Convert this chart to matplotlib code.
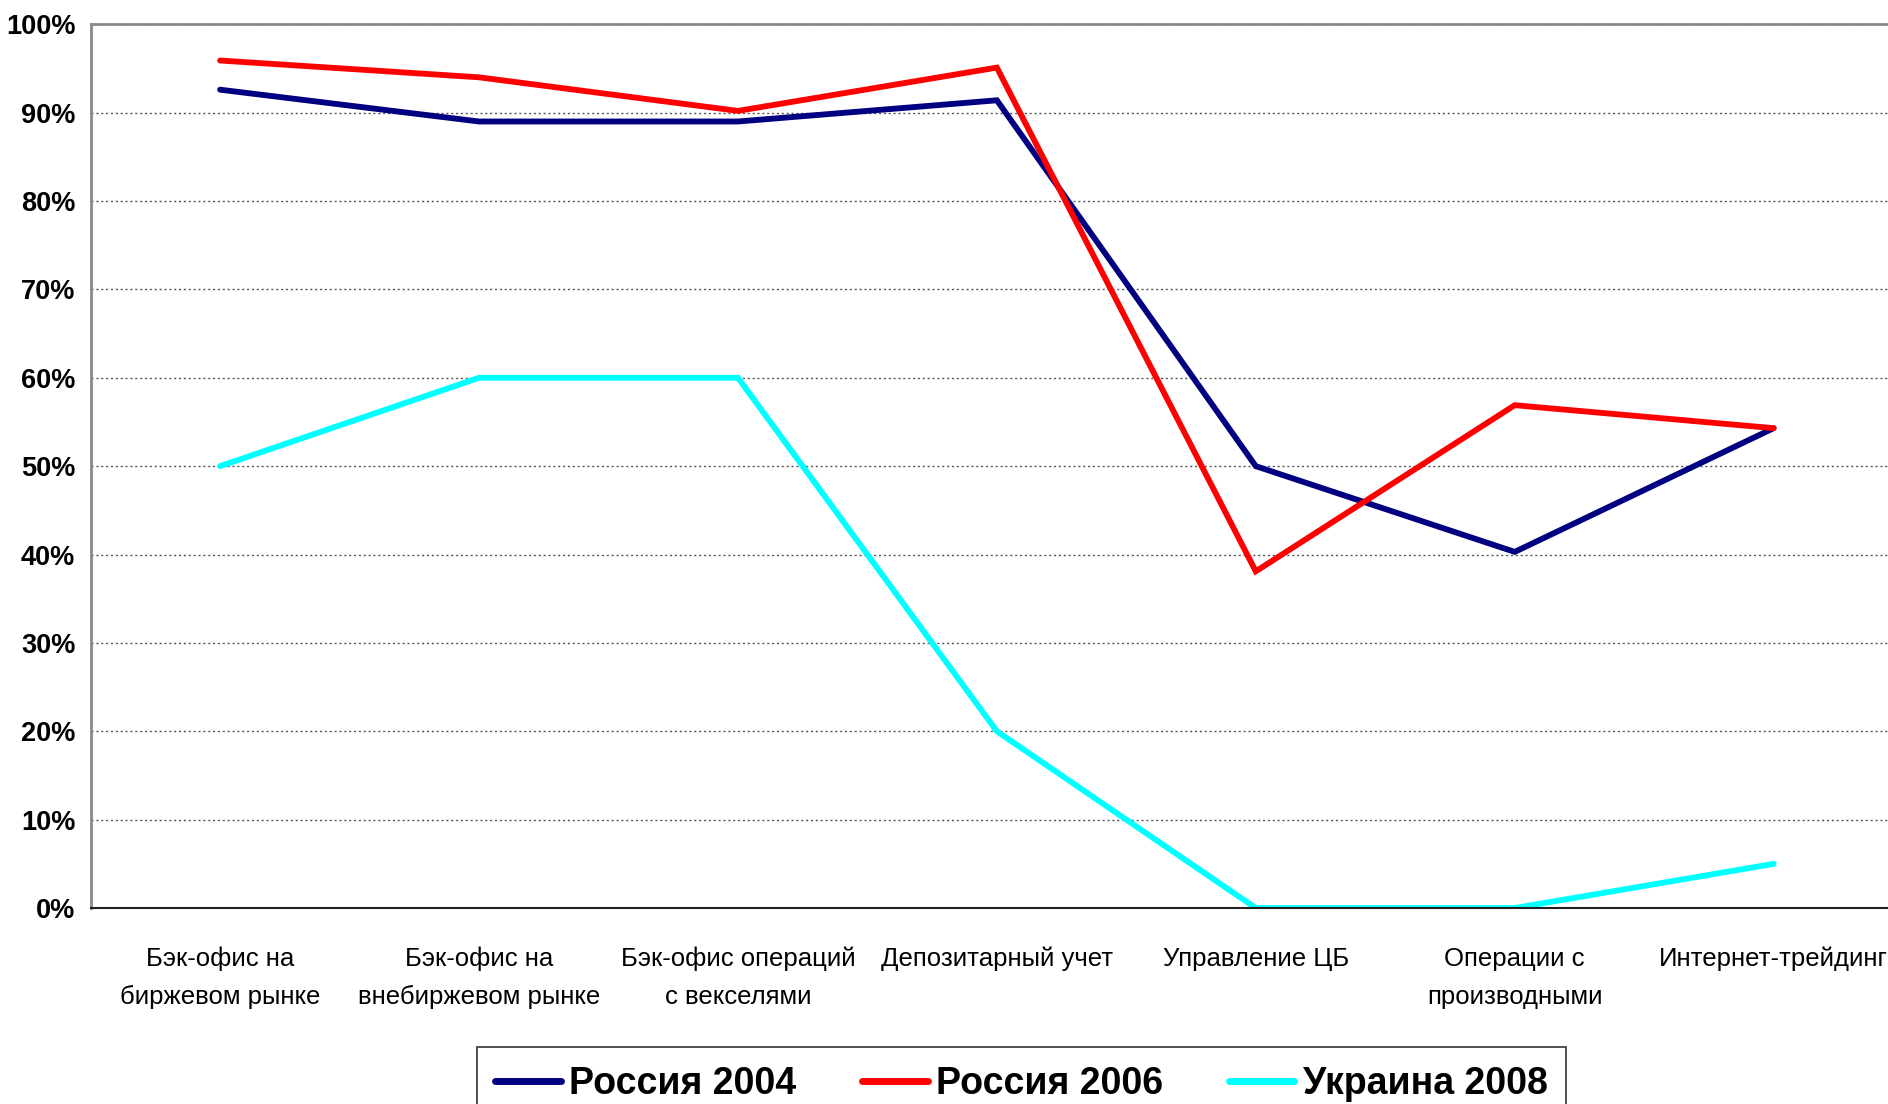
import matplotlib
matplotlib.use("Agg")
import matplotlib.pyplot as plt
from matplotlib.ticker import FuncFormatter, MultipleLocator

plt.rcParams['font.family'] = ['Liberation Sans', 'DejaVu Sans']

# data (percent)
categories = ["Бэк-офис на\nбиржевом рынке", "Бэк-офис на\nвнебиржевом рынке",
              "Бэк-офис операций\nс векселями", "Депозитарный учет",
              "Управление ЦБ", "Операции с\nпроизводными", "Интернет-трейдинг"]
russia_2004 = [92.6, 89.0, 89.0, 91.4, 50.0, 40.3, 54.3]
russia_2006 = [95.9, 94.0, 90.2, 95.1, 38.1, 56.9, 54.3]
ukraine_2008 = [50.0, 60.0, 60.0, 20.0, 0.0, 0.0, 5.0]
series_names = ["Россия 2004", "Россия 2006", "Украина 2008"]
colors = ["#000080", "#FF0000", "#00FFFF"]

fig = plt.figure(figsize=(18.88, 11.04), dpi=100)
ax = fig.add_axes([0.048, 0.1775, 0.96, 0.8005])

x = list(range(len(categories)))
for vals, name, c in zip([russia_2004, russia_2006, ukraine_2008], series_names, colors):
    ax.plot(x, vals, color=c, lw=4.2, label=name, solid_capstyle="round", solid_joinstyle="miter")

ax.set_xlim(-0.5, len(categories) - 0.5)
ax.set_ylim(0, 100)
ax.yaxis.set_major_locator(MultipleLocator(10))
ax.yaxis.set_major_formatter(FuncFormatter(lambda v, p: f"{v:.0f}%"))
ax.set_xticks(x)
ax.set_xticklabels(categories, fontsize=18.5, linespacing=1.72)
for t in ax.get_yticklabels():
    t.set_fontweight("bold")
    t.set_fontsize(19.5)
ax.tick_params(axis="y", length=0, pad=11)
ax.tick_params(axis="x", length=0, pad=28)

ax.grid(axis="y", color="#555555", linestyle=(0, (1.5, 2)), lw=1)
ax.set_axisbelow(True)
for s in ["left", "top", "right"]:
    ax.spines[s].set_color("#888888")
    ax.spines[s].set_linewidth(2)
ax.spines["bottom"].set_color("#222222")
ax.spines["bottom"].set_linewidth(1.5)

leg = fig.legend(loc="upper center", bbox_to_anchor=(0.541, 0.0516), ncol=3,
                 prop={"size": 27, "weight": "bold"}, frameon=True, fancybox=False,
                 edgecolor="black", handlelength=1.75, handletextpad=0.22,
                 columnspacing=1.75, borderpad=0.5, borderaxespad=0)
leg.get_frame().set_linewidth(1.2)
for h in leg.legend_handles:
    h.set_linewidth(5)

fig.savefig("out.png", dpi=100)
